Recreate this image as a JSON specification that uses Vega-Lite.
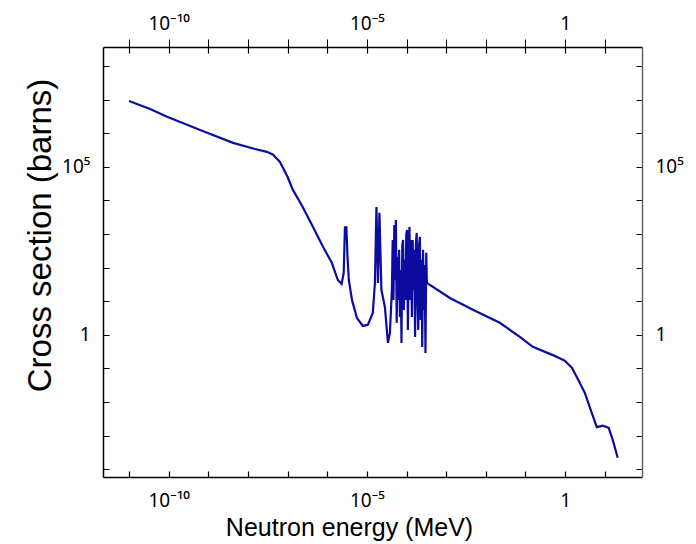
{
  "$schema": "https://vega.github.io/schema/vega-lite/v6.json",
  "width": 539,
  "height": 430,
  "autosize": {"type": "none"},
  "padding": {"left": 103, "top": 47, "right": 54, "bottom": 67},
  "background": "white",
  "config": {
    "view": {"stroke": null},
    "font": "Liberation Sans",
    "axis": {"domainColor": "#000", "domainWidth": 1.5, "labelFont": "Noto Sans", "labelFontSize": 19, "labelColor": "#000", "titleFont": "Liberation Sans", "titleFontWeight": "normal", "titleColor": "#000"}
  },
  "data": {"values": [
    {"E": 1e-11, "S": 9.1e6},
    {"E": 3.4e-11, "S": 5.3e6},
    {"E": 9.1e-11, "S": 3.1e6},
    {"E": 6.2e-10, "S": 1.26e6},
    {"E": 4.2e-9, "S": 5.2e5},
    {"E": 1.5e-8, "S": 3.4e5},
    {"E": 3.0e-8, "S": 2.8e5},
    {"E": 4.3e-8, "S": 2.3e5},
    {"E": 6.4e-8, "S": 1.4e5},
    {"E": 1.0e-7, "S": 5.0e4},
    {"E": 1.35e-7, "S": 2.1e4},
    {"E": 2.4e-7, "S": 6.4e3},
    {"E": 4.4e-7, "S": 1.6e3},
    {"E": 7.8e-7, "S": 420},
    {"E": 1.3e-6, "S": 140},
    {"E": 1.85e-6, "S": 43},
    {"E": 2.3e-6, "S": 33},
    {"E": 2.6e-6, "S": 70},
    {"E": 2.79e-6, "S": 1600},
    {"E": 3.04e-6, "S": 1600},
    {"E": 3.24e-6, "S": 210},
    {"E": 3.5e-6, "S": 43},
    {"E": 4.2e-6, "S": 11},
    {"E": 5.6e-6, "S": 3.2},
    {"E": 7.9e-6, "S": 1.85},
    {"E": 1.06e-5, "S": 2.0},
    {"E": 1.41e-5, "S": 4.5},
    {"E": 1.59e-5, "S": 35},
    {"E": 1.74e-5, "S": 6400},
    {"E": 1.9e-5, "S": 35},
    {"E": 2.07e-5, "S": 4300},
    {"E": 2.32e-5, "S": 22},
    {"E": 2.84e-5, "S": 6.8},
    {"E": 3.39e-5, "S": 0.58},
    {"E": 3.8e-5, "S": 1.15},
    {"E": 4.27e-5, "S": 21.8},
    {"E": 4.47e-5, "S": 672},
    {"E": 4.68e-5, "S": 11.0},
    {"E": 4.91e-5, "S": 1879},
    {"E": 5.14e-5, "S": 43.3},
    {"E": 5.38e-5, "S": 2647},
    {"E": 5.64e-5, "S": 2.28},
    {"E": 5.91e-5, "S": 210},
    {"E": 6.19e-5, "S": 11.0},
    {"E": 6.48e-5, "S": 339},
    {"E": 6.79e-5, "S": 3.43},
    {"E": 7.11e-5, "S": 86},
    {"E": 7.45e-5, "S": 0.578},
    {"E": 7.81e-5, "S": 477},
    {"E": 8.18e-5, "S": 672},
    {"E": 8.57e-5, "S": 5.55},
    {"E": 8.97e-5, "S": 171},
    {"E": 9.40e-5, "S": 11.0},
    {"E": 9.84e-5, "S": 946},
    {"E": 1.031e-4, "S": 1334},
    {"E": 1.080e-4, "S": 1.41},
    {"E": 1.132e-4, "S": 240},
    {"E": 1.186e-4, "S": 1638},
    {"E": 1.242e-4, "S": 11.0},
    {"E": 1.301e-4, "S": 672},
    {"E": 1.363e-4, "S": 3.43},
    {"E": 1.427e-4, "S": 672},
    {"E": 1.495e-4, "S": 21.8},
    {"E": 1.566e-4, "S": 339},
    {"E": 1.641e-4, "S": 0.872},
    {"E": 1.719e-4, "S": 477},
    {"E": 1.800e-4, "S": 1086},
    {"E": 1.886e-4, "S": 11.0},
    {"E": 1.975e-4, "S": 1.41},
    {"E": 2.069e-4, "S": 477},
    {"E": 2.168e-4, "S": 826},
    {"E": 2.271e-4, "S": 2.79},
    {"E": 2.379e-4, "S": 171},
    {"E": 2.491e-4, "S": 0.44},
    {"E": 2.610e-4, "S": 339},
    {"E": 2.734e-4, "S": 5.55},
    {"E": 2.864e-4, "S": 121},
    {"E": 3.000e-4, "S": 0.291},
    {"E": 3.143e-4, "S": 276},
    {"E": 3.254e-4, "S": 35.3},
    {"E": 1.24e-3, "S": 12.6},
    {"E": 5.3e-3, "S": 5.2},
    {"E": 0.0225, "S": 2.3},
    {"E": 0.072, "S": 0.87},
    {"E": 0.153, "S": 0.44},
    {"E": 0.49, "S": 0.25},
    {"E": 0.98, "S": 0.17},
    {"E": 1.48, "S": 0.105},
    {"E": 1.97, "S": 0.056},
    {"E": 3.13, "S": 0.019},
    {"E": 4.7, "S": 0.0048},
    {"E": 6.3, "S": 0.0018},
    {"E": 8.9, "S": 0.002},
    {"E": 12.6, "S": 0.0017},
    {"E": 15.9, "S": 0.00075},
    {"E": 21.2, "S": 0.00022}
  ]},
  "layer": [
    {
      "mark": {"type": "line", "color": "#0c0ca0", "strokeWidth": 2.2, "clip": true},
      "encoding": {
        "x": {"field": "E", "type": "quantitative", "scale": {"type": "log", "domain": [2.2e-12, 87], "nice": false},
          "axis": {"orient": "bottom", "values": [1e-11, 1e-10, 1e-9, 1e-8, 1e-7, 1e-6, 1e-5, 1e-4, 1e-3, 1e-2, 1e-1, 1, 10],
            "grid": true, "gridDash": [6, 418, 6, 600], "gridColor": "#000", "gridOpacity": 1, "gridWidth": 1.2, "ticks": false,
            "labelExpr": "abs(log(datum.value)/LN10 + 10) < 0.01 ? '10⁻¹⁰' : abs(log(datum.value)/LN10 + 5) < 0.01 ? '10⁻⁵' : abs(log(datum.value)/LN10) < 0.01 ? '1' : ''",
            "labelPadding": 14, "title": "Neutron energy (MeV)", "titleFontSize": 25, "titleX": 246, "titleY": 50, "titleBaseline": "middle", "titleAnchor": null, "titleAlign": "center"}},
        "y": {"field": "S", "type": "quantitative", "scale": {"type": "log", "domain": [5.9e-5, 3.7e8], "nice": false},
          "axis": {"orient": "left", "values": [1e-4, 1e-3, 1e-2, 1e-1, 1, 10, 100, 1000, 1e4, 1e5, 1e6, 1e7, 1e8],
            "grid": true, "gridDash": [6, 527, 6, 600], "gridColor": "#000", "gridOpacity": 1, "gridWidth": 1.2, "ticks": false,
            "labelExpr": "abs(log(datum.value)/LN10 - 5) < 0.01 ? '10⁵' : abs(log(datum.value)/LN10) < 0.01 ? '1' : ''",
            "labelPadding": 13, "title": "Cross section (barns)", "titleFontSize": 33, "titleAngle": 270, "titleX": -63, "titleY": 188, "titleBaseline": "middle", "titleAlign": "center", "titleAnchor": null}}
      }
    },
    {
      "mark": {"type": "line", "opacity": 0},
      "encoding": {
        "x": {"field": "E", "type": "quantitative", "scale": {"type": "log", "domain": [2.2e-12, 87], "nice": false},
          "axis": {"orient": "top", "values": [1e-11, 1e-10, 1e-9, 1e-8, 1e-7, 1e-6, 1e-5, 1e-4, 1e-3, 1e-2, 1e-1, 1, 10],
            "grid": false, "ticks": true, "tickSize": 8, "tickColor": "#000",
            "labelExpr": "abs(log(datum.value)/LN10 + 10) < 0.01 ? '10⁻¹⁰' : abs(log(datum.value)/LN10 + 5) < 0.01 ? '10⁻⁵' : abs(log(datum.value)/LN10) < 0.01 ? '1' : ''",
            "labelPadding": 6, "title": null}},
        "y": {"field": "S", "type": "quantitative", "scale": {"type": "log", "domain": [5.9e-5, 3.7e8], "nice": false},
          "axis": {"orient": "right", "values": [1e-4, 1e-3, 1e-2, 1e-1, 1, 10, 100, 1000, 1e4, 1e5, 1e6, 1e7, 1e8],
            "grid": false, "ticks": false,
            "labelExpr": "abs(log(datum.value)/LN10 - 5) < 0.01 ? '10⁵' : abs(log(datum.value)/LN10) < 0.01 ? '1' : ''",
            "labelPadding": 13, "title": null, "domainColor": "#666"}}
      }
    }
  ],
  "resolve": {"axis": {"x": "independent", "y": "independent"}}
}
